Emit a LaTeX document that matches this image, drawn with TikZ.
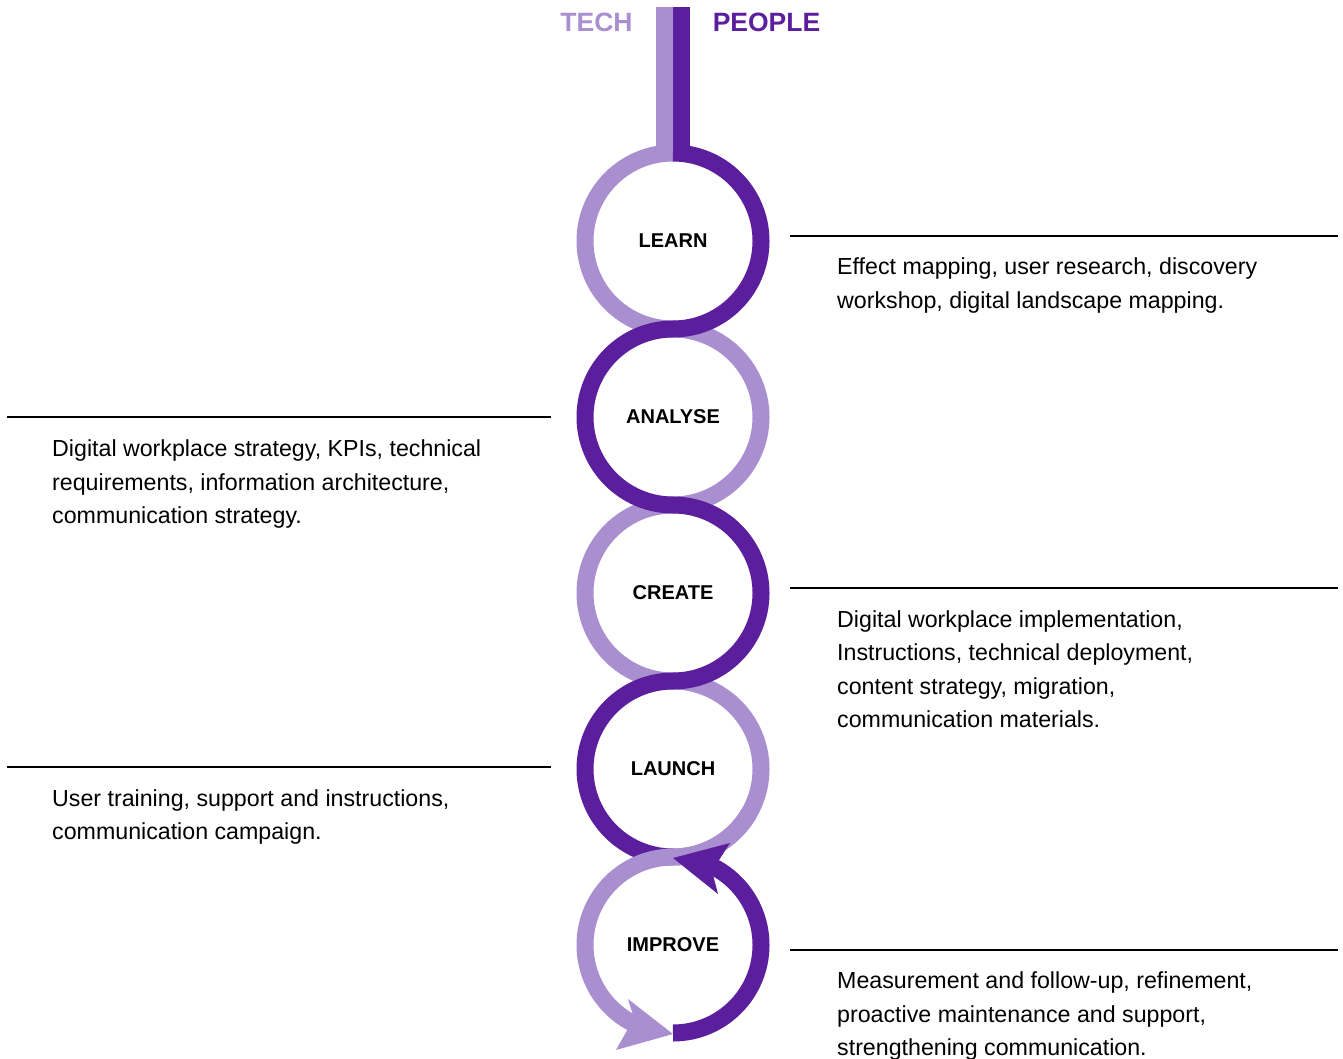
\documentclass[tikz,border=0pt]{standalone}
\usepackage{fontspec}
\setmainfont{Liberation Sans}
\definecolor{lite}{HTML}{AA8FD0}
\definecolor{deep}{HTML}{5B1F9E}
\begin{document}
\begin{tikzpicture}[x=1pt,y=1pt,
  band/.style={line width=17pt, line cap=butt},
  lt/.style={band, draw=lite},
  dk/.style={band, draw=deep},
  stage/.style={font=\bfseries\fontsize{20}{24}\selectfont, text=black, inner sep=0pt},
  desc/.style={anchor=base west, align=left, font=\fontsize{23.2}{33.5}\selectfont, inner sep=0pt},
  rulestyle/.style={line width=2.8pt, black},
  head/.style={font=\bfseries\fontsize{26.5}{30}\selectfont, inner sep=0pt}]
\useasboundingbox (0,0) rectangle (1343,-1059);

% stage nodes (circle centres)
\node[stage] (learn)   at (673,-241) {LEARN};
\node[stage] (analyse) at (673,-417) {ANALYSE};
\node[stage] (create)  at (673,-593) {CREATE};
\node[stage] (launch)  at (673,-769) {LAUNCH};
\node[stage] (improve) at (673,-945) {IMPROVE};

% headings
\node[head, text=lite] (tech)   at (596.5,-22) {TECH};
\node[head, text=deep] (people) at (766.5,-22) {PEOPLE};

% top bars
\draw[lt] ([shift={(-8.5,234)}]learn.center) -- ([shift={(-8.5,88)}]learn.center);
\draw[dk] ([shift={(8.5,234)}]learn.center) -- ([shift={(8.5,88)}]learn.center);

% light arcs (under dark)
\draw[lt] ([shift={(90:88pt)}]learn.center) arc[start angle=90, end angle=270, radius=88pt];
\draw[lt] ([shift={(90:88pt)}]analyse.center) arc[start angle=90, end angle=-90, radius=88pt];
\draw[lt] ([shift={(90:88pt)}]create.center) arc[start angle=90, end angle=270, radius=88pt];
\draw[lt] ([shift={(90:88pt)}]launch.center) arc[start angle=90, end angle=-90, radius=88pt];

% dark arcs
\draw[dk] ([shift={(90:88pt)}]learn.center) arc[start angle=90, end angle=-90, radius=88pt];
\draw[dk] ([shift={(90:88pt)}]analyse.center) arc[start angle=90, end angle=270, radius=88pt];
\draw[dk] ([shift={(90:88pt)}]create.center) arc[start angle=90, end angle=-90, radius=88pt];
\draw[dk] ([shift={(90:88pt)}]launch.center) arc[start angle=90, end angle=270, radius=88pt];

% light over dark at launch/improve junction
\draw[lt] ([shift={(-30:88pt)}]launch.center) arc[start angle=-30, end angle=-90, radius=88pt];
\draw[lt] ([shift={(90:88pt)}]improve.center) arc[start angle=90, end angle=246, radius=88pt];
\fill[lite] ([shift={(0,-89)}]improve.center) -- ([shift={(-57,-105)}]improve.center)
  -- ([shift={(-39,-73)}]improve.center) -- ([shift={(-45,-54)}]improve.center) -- cycle;

% dark improve arc with arrowhead
\draw[dk] ([shift={(-90:88pt)}]improve.center) arc[start angle=-90, end angle=66, radius=88pt];
\fill[deep] ([shift={(0,87)}]improve.center) -- ([shift={(57,102)}]improve.center)
  -- ([shift={(39,74)}]improve.center) -- ([shift={(45,51)}]improve.center) -- cycle;

% rules
\draw[rulestyle] (790,-236) -- (1338,-236);
\draw[rulestyle] (7,-417) -- (551,-417);
\draw[rulestyle] (790,-588) -- (1338,-588);
\draw[rulestyle] (7,-767) -- (551,-767);
\draw[rulestyle] (790,-950) -- (1338,-950);

% descriptions (anchored at baseline of last line)
\node[desc] (dlearn) at (837,-308) {Effect mapping, user research, discovery\\workshop, digital landscape mapping.};
\node[desc] (danalyse) at (52,-523.5) {Digital workplace strategy, KPIs, technical\\requirements, information architecture,\\communication strategy.};
\node[desc] (dcreate) at (837,-727.5) {Digital workplace implementation,\\Instructions, technical deployment,\\content strategy, migration,\\communication materials.};
\node[desc] (dlaunch) at (52,-839.5) {User training, support and instructions,\\communication campaign.};
\node[desc] (dimprove) at (837,-1055.5) {Measurement and follow-up, refinement,\\proactive maintenance and support,\\strengthening communication.};
\end{tikzpicture}
\end{document}
